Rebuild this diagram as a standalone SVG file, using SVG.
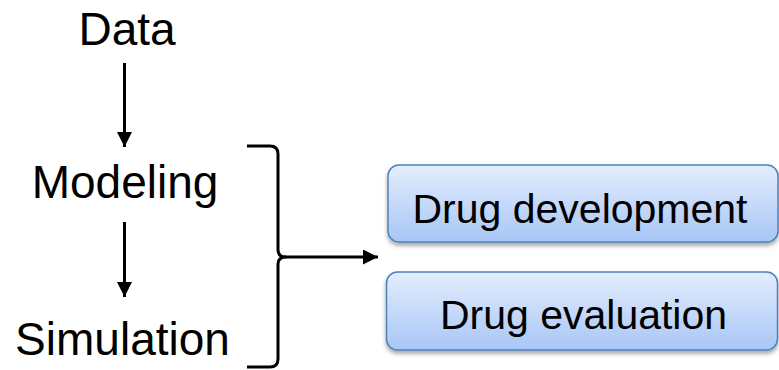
<svg xmlns="http://www.w3.org/2000/svg" width="779" height="370" viewBox="0 0 779 370">
<style>
.lbl{font-family:"Liberation Sans",Arial,sans-serif;font-size:46px;fill:#000;text-anchor:middle}
.bt{font-size:41px}
.box{fill:url(#g);stroke:#4f81bd;stroke-width:1.5;filter:url(#sh)}
.ln{stroke:#000;stroke-width:3;fill:none}
</style>
<defs>
<linearGradient id="g" x1="0" y1="0" x2="0" y2="1">
<stop offset="0" stop-color="#e4edfd"/>
<stop offset="1" stop-color="#a8c6f6"/>
</linearGradient>
<filter id="sh" x="-5%" y="-10%" width="110%" height="130%">
<feDropShadow dx="0" dy="3" stdDeviation="2" flood-color="#000" flood-opacity="0.35"/>
</filter>
<marker id="ah" viewBox="0 0 10 10" refX="10" refY="5" markerWidth="5" markerHeight="5" markerUnits="strokeWidth" orient="auto">
<path d="M0,0 L10,5 L0,10 z" fill="#000"/>
</marker>
</defs>
<g id="data"><text class="lbl" x="127" y="45">Data</text></g>
<g id="modeling"><text class="lbl" x="125" y="198">Modeling</text></g>
<g id="simulation"><text class="lbl" x="122.5" y="355">Simulation</text></g>
<g id="drug-development">
<rect class="box" x="388" y="165" width="390" height="77" rx="11"/>
<text class="lbl bt" x="580" y="223">Drug development</text>
</g>
<g id="drug-evaluation">
<rect class="box" x="386.5" y="272" width="391" height="78" rx="11"/>
<text class="lbl bt" x="583.5" y="329">Drug evaluation</text>
</g>
<g id="connectors">
<line class="ln" x1="124.5" y1="63" x2="124.5" y2="147" marker-end="url(#ah)"/>
<line class="ln" x1="124.5" y1="222" x2="124.5" y2="297" marker-end="url(#ah)"/>
<path class="ln" stroke-width="3.5" d="M247,146 L270,146 Q278,146 278,154 L278,250 Q278,257 286,257 Q278,257 278,264 L278,359 Q278,367 270,367 L247,367"/>
<line class="ln" x1="284" y1="257" x2="378" y2="257" marker-end="url(#ah)"/>
</g>
</svg>
